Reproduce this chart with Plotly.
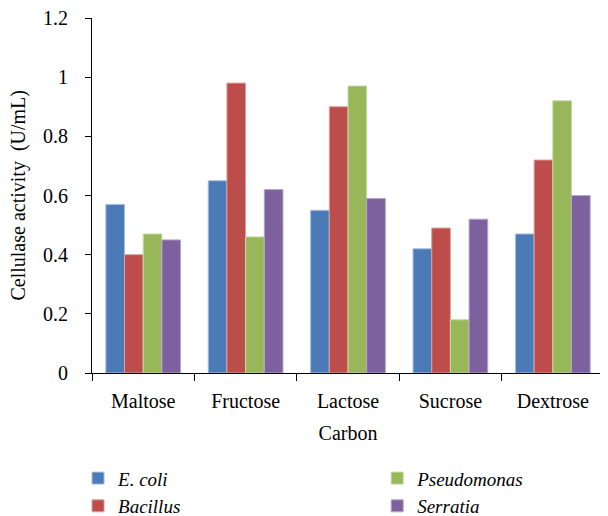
import plotly.graph_objects as go

categories = ["Maltose", "Fructose", "Lactose", "Sucrose", "Dextrose"]
ecoli = [0.57, 0.65, 0.55, 0.42, 0.47]
bacillus = [0.40, 0.98, 0.90, 0.49, 0.72]
pseudomonas = [0.47, 0.46, 0.97, 0.18, 0.92]
serratia = [0.45, 0.62, 0.59, 0.52, 0.60]
series_names = ["E. coli", "Bacillus", "Pseudomonas", "Serratia"]
colors = ["#4a7bb7", "#bc4d4b", "#98b759", "#7c619e"]
edges = ["#a9c0de", "#dba09f", "#c6d9a4", "#b6a6cc"]

FONT = "Liberation Serif"
fig = go.Figure()
for i, (name, vals) in enumerate(zip(series_names, [ecoli, bacillus, pseudomonas, serratia])):
    fig.add_trace(go.Bar(
        x=categories, y=vals, name=name,
        marker=dict(color=colors[i], line=dict(color=edges[i], width=1)),
        legend="legend" if i < 2 else "legend2",
    ))

# page body has an 8px margin, so the figure is 8px smaller than the window
fig.update_layout(
    width=600, height=508,
    margin=dict(l=84, r=4, t=10, b=143, autoexpand=False),
    plot_bgcolor="white", paper_bgcolor="white",
    barmode="group", bargap=0.27, bargroupgap=0,
    font=dict(family=FONT, size=20, color="black"),
    legend=dict(x=-0.0273, y=-0.243, xanchor="left", yanchor="top",
                font=dict(family=FONT, size=19, style="italic"),
                tracegroupgap=0, itemwidth=30),
    legend2=dict(x=0.557, y=-0.243, xanchor="left", yanchor="top",
                 font=dict(family=FONT, size=19, style="italic"),
                 tracegroupgap=0, itemwidth=30),
    annotations=[dict(text="Cellulase activity  (U/mL)", textangle=-90,
                      xref="paper", yref="paper", x=-0.1445, y=0.5,
                      xanchor="center", yanchor="middle", showarrow=False,
                      font=dict(family=FONT, size=20))],
)
fig.update_xaxes(
    showline=True, linecolor="black", linewidth=1.2,
    ticks="outside", tickson="boundaries", ticklen=7, tickcolor="black",
    ticklabelstandoff=10,
    title=dict(text="Carbon", standoff=14, font=dict(size=20)),
    tickfont=dict(size=20),
)
fig.update_yaxes(
    range=[0, 1.2], dtick=0.2, showgrid=False, zeroline=False,
    showline=True, linecolor="black", linewidth=1.2,
    ticks="outside", ticklen=6, tickcolor="black",
    ticklabelstandoff=13, ticklabeloverflow="allow",
    tickfont=dict(size=20),
    tickformat="~g",
)
fig.write_html("out.html")
